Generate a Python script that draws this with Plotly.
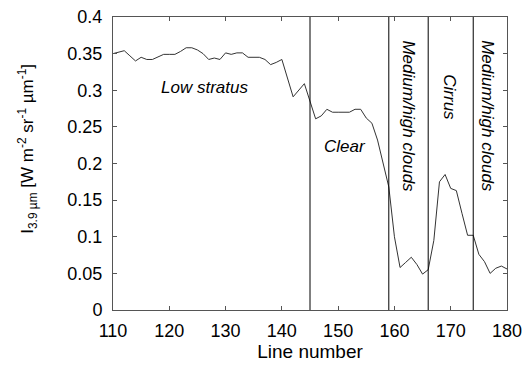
import plotly.graph_objects as go

line_number = [110, 111, 112, 113, 114, 115, 116, 117, 118, 119, 120, 121, 122, 123, 124, 125,
               126, 127, 128, 129, 130, 131, 132, 133, 134, 135, 136, 137, 138, 139, 140,
               142, 144, 146, 147, 148, 149, 150, 151, 152, 153, 154, 155, 156, 157, 158,
               159, 160, 161, 162, 163, 164, 165, 166, 167, 168, 169, 170, 171, 172, 173,
               174, 175, 176, 177, 178, 179, 180]
radiance = [0.350, 0.352, 0.354, 0.347, 0.340, 0.345, 0.342, 0.342, 0.346, 0.349, 0.349, 0.349,
            0.353, 0.358, 0.358, 0.355, 0.350, 0.342, 0.344, 0.342, 0.351, 0.349, 0.351, 0.351,
            0.345, 0.345, 0.345, 0.342, 0.335, 0.338, 0.342,
            0.291, 0.309, 0.261, 0.265, 0.274, 0.270, 0.270, 0.270, 0.270, 0.274, 0.274,
            0.262, 0.255, 0.232, 0.202, 0.168, 0.100, 0.058, 0.065, 0.072, 0.062, 0.049,
            0.055, 0.095, 0.175, 0.185, 0.166, 0.163, 0.132, 0.102, 0.102, 0.076, 0.066,
            0.050, 0.057, 0.060, 0.056]

boundaries = [145, 159, 166, 174]

labels = ["Low stratus", "Clear", "Medium/high clouds", "Cirrus", "Medium/high clouds"]
label_x = [126.3, 151.2, 162.5, 169.75, 176.4]
label_y = [0.304, 0.223, 0.265, 0.290, 0.265]
label_angle = [0, 0, 90, 90, 90]

x_ticks = [110, 120, 130, 140, 150, 160, 170, 180]
y_ticks = [0, 0.05, 0.1, 0.15, 0.2, 0.25, 0.3, 0.35, 0.4]
y_tick_text = ["0", "0.05", "0.1", "0.15", "0.2", "0.25", "0.3", "0.35", "0.4"]

FONT = "Liberation Sans, Arial, Helvetica, sans-serif"

fig = go.Figure()
fig.add_trace(go.Scatter(x=line_number, y=radiance, mode="lines",
                         line=dict(color="#333333", width=1), showlegend=False))

for b in boundaries:
    fig.add_shape(type="line", x0=b, x1=b, xref="x", y0=0, y1=1, yref="paper",
                  line=dict(color="black", width=1))

for t, xx, yy, a in zip(labels, label_x, label_y, label_angle):
    fig.add_annotation(x=xx, y=yy, text="<i>" + t + "</i>", showarrow=False,
                       textangle=a, font=dict(family=FONT, size=17, color="black"))

# y-axis title as a rotated annotation
fig.add_annotation(xref="paper", yref="paper", x=-0.216, y=0.55,
                   xanchor="center", yanchor="middle",
                   text="I<sub>3.9 µm</sub> [W m<sup>-2</sup> sr<sup>-1</sup> µm<sup>-1</sup>]",
                   showarrow=False, textangle=-90,
                   font=dict(family=FONT, size=17, color="black"))

fig.update_layout(
    width=528, height=367,
    margin=dict(l=113, r=21, t=17, b=57, autoexpand=False),
    paper_bgcolor="white", plot_bgcolor="white",
    font=dict(family=FONT, size=17, color="black"),
)
axis_common = dict(showgrid=False, zeroline=False, showline=True, linecolor="#555555",
                   linewidth=1, mirror="ticks", ticks="inside", ticklen=4, automargin=False,
                   tickcolor="#555555", tickfont=dict(family=FONT, size=18, color="black"))
fig.update_xaxes(range=[110, 180], tickvals=x_ticks, ticklabelstandoff=4,
                 title=dict(text="Line number", font=dict(family=FONT, size=19), standoff=1),
                 **axis_common)
fig.update_yaxes(range=[0, 0.4], tickvals=y_ticks, ticktext=y_tick_text, ticklabelstandoff=6,
                 **axis_common)

fig.write_html("out.html")
